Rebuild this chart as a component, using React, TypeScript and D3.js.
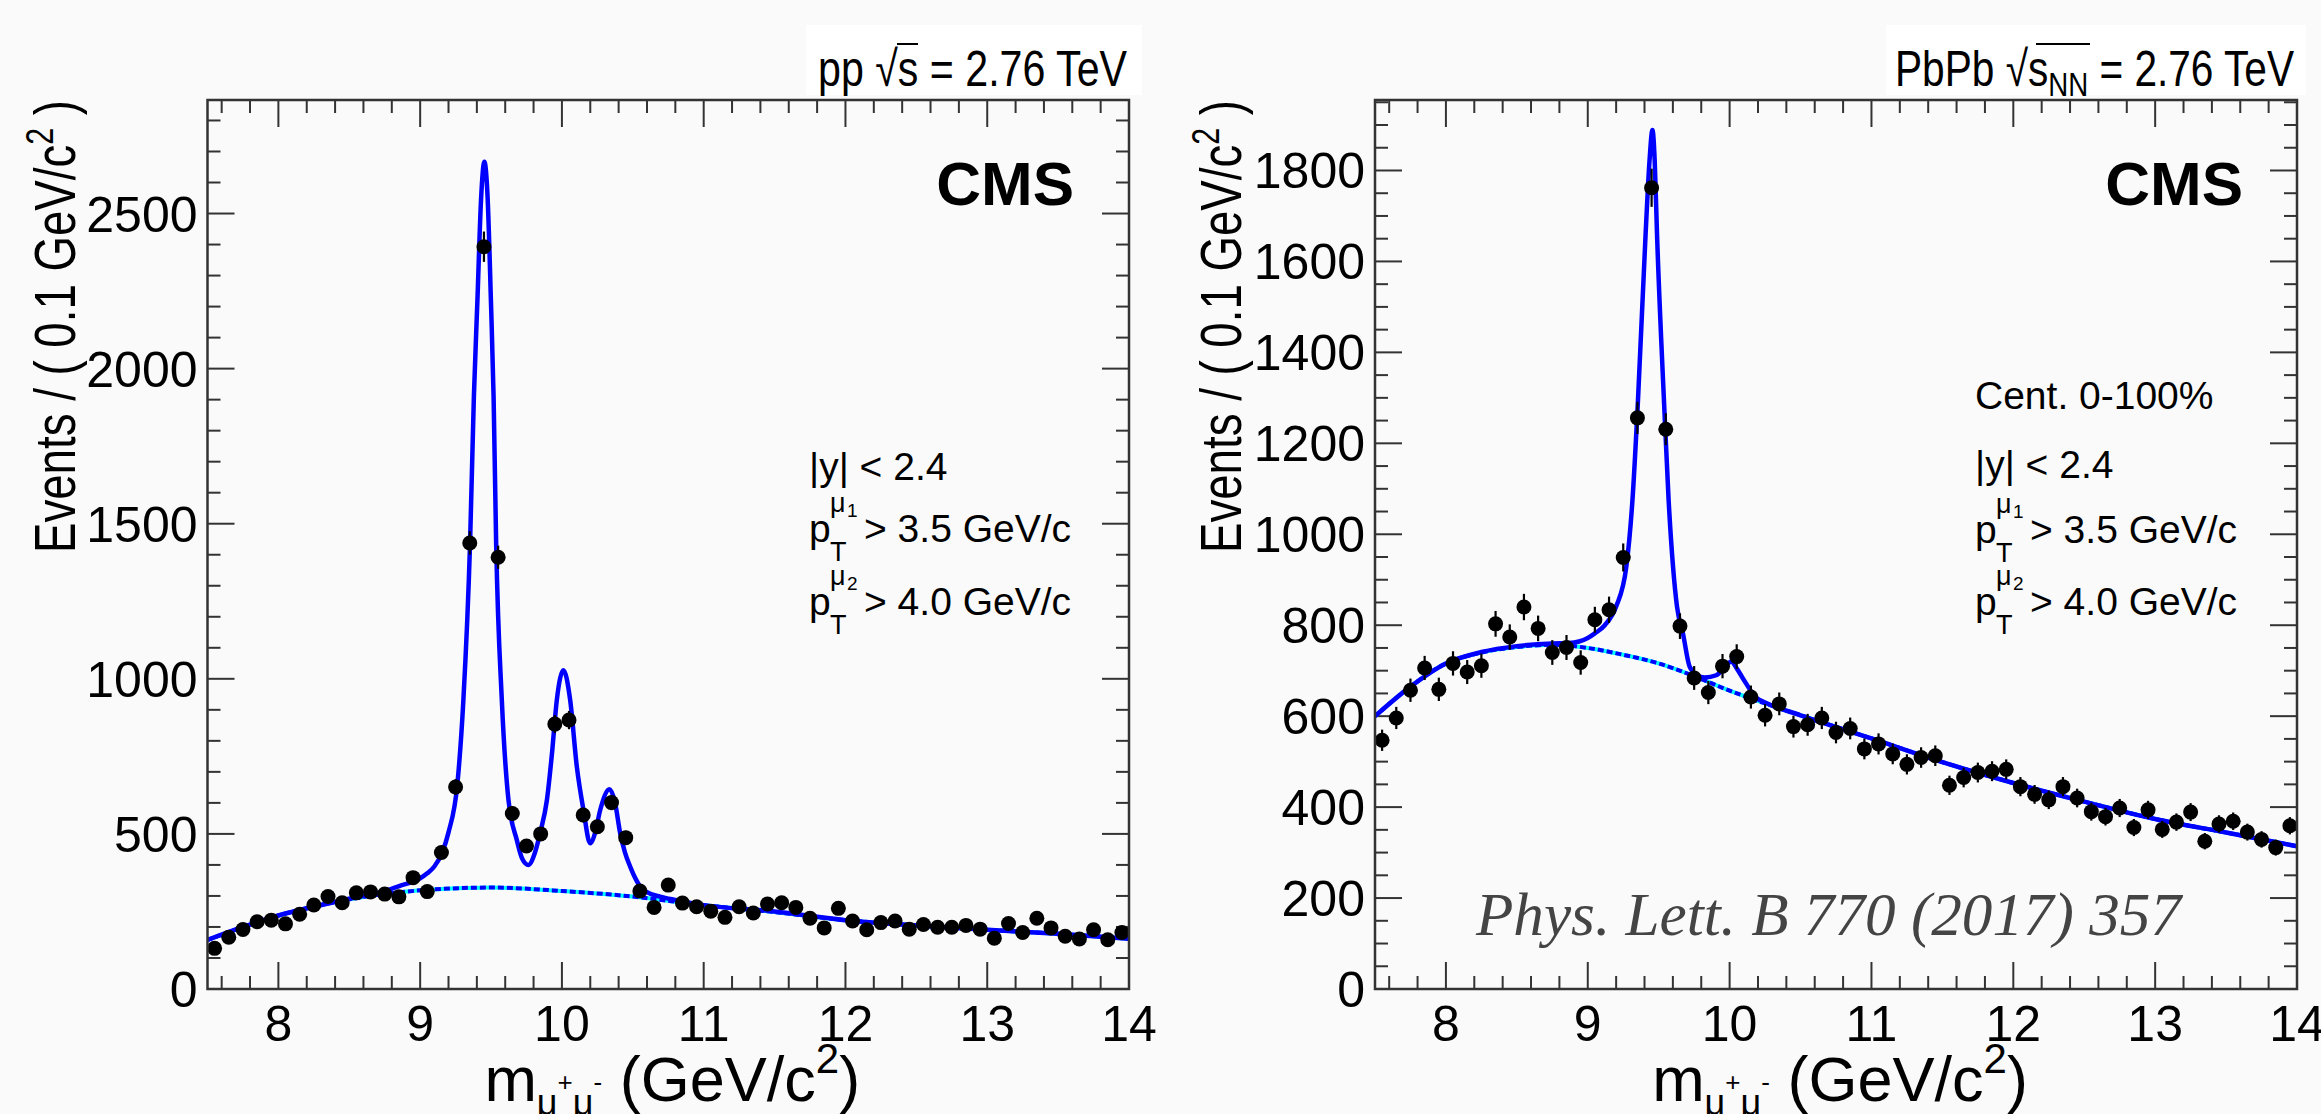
import React from 'react';
import * as d3 from 'd3';

const W = 2321;
const H = 1114;

// bin centres (GeV/c^2), 0.1 GeV bins from 7.5 to 14
const binCenters = [
  7.55, 7.65, 7.75, 7.85, 7.95, 8.05, 8.15, 8.25, 8.35, 8.45,
  8.55, 8.65, 8.75, 8.85, 8.95, 9.05, 9.15, 9.25, 9.35, 9.45,
  9.55, 9.65, 9.75, 9.85, 9.95, 10.05, 10.15, 10.25, 10.35, 10.45,
  10.55, 10.65, 10.75, 10.85, 10.95, 11.05, 11.15, 11.25, 11.35, 11.45,
  11.55, 11.65, 11.75, 11.85, 11.95, 12.05, 12.15, 12.25, 12.35, 12.45,
  12.55, 12.65, 12.75, 12.85, 12.95, 13.05, 13.15, 13.25, 13.35, 13.45,
  13.55, 13.65, 13.75, 13.85, 13.95,
];

// pp counts
const ppCounts = [
  131, 167, 192, 217, 222, 210, 241, 271, 298, 278,
  310, 313, 306, 297, 359, 314, 440, 651, 1438, 2393,
  1392, 566, 461, 500, 854, 867, 561, 523, 601, 488,
  316, 263, 335, 277, 265, 251, 231, 265, 245, 274,
  278, 263, 228, 197, 260, 219, 191, 214, 219, 193,
  208, 199, 199, 205, 193, 164, 211, 182, 228, 197,
  170, 161, 191, 159, 182,
];

// PbPb counts
const pbpbCounts = [
  547, 596, 657, 706, 659, 716, 697, 711, 803, 774,
  840, 793, 740, 751, 718, 812, 834, 949, 1256, 1762,
  1231, 798, 684, 652, 710, 731, 642, 602, 627, 577,
  581, 596, 564, 573, 528, 539, 517, 494, 509, 513,
  448, 465, 476, 479, 483, 445, 428, 416, 445, 420,
  390, 379, 398, 355, 394, 351, 367, 389, 325, 363,
  369, 345, 329, 311, 359,
];

// pp total fit curve
const ppFitMass = [
  7.5, 7.75, 8.0, 8.25, 8.5, 8.75, 8.86, 9.0, 9.05, 9.1, 9.153, 9.2, 9.263, 9.305, 9.352,
  9.379, 9.404, 9.43, 9.453, 9.476, 9.499, 9.518, 9.536, 9.576, 9.623, 9.682, 9.72,
  9.764, 9.81, 9.85, 9.894, 9.93, 9.964, 10.011, 10.058, 10.105, 10.152, 10.199,
  10.235, 10.27, 10.336, 10.375, 10.411, 10.445, 10.482, 10.52, 10.552, 10.6, 10.693,
  10.8, 10.976, 11.5, 12.0, 12.5, 13.0, 13.5, 14.0,
];
const ppFitValues = [
  158, 200, 237, 265, 291, 316, 333, 357, 373, 395, 437, 505, 663, 932, 1437,
  1910, 2221, 2550, 2667, 2550, 2221, 1910, 1437, 932, 609, 480, 420,
  400, 440, 510, 609, 760, 932, 1028, 932, 717, 577, 470,
  505, 577, 644, 600, 502, 440, 394, 355, 330, 312, 298,
  287, 272, 250, 222, 205, 191, 178, 162,
];
// pp background component
const ppBkgMass = [7.5, 8.0, 8.5, 9.0, 9.5, 10.0, 10.5, 11.0, 11.5, 12.0, 12.5, 13.0, 13.5, 14.0];
const ppBkgValues = [158, 237, 289, 318, 327, 316, 298, 270, 248, 222, 205, 191, 178, 162];

// PbPb total fit curve
const pbpbFitMass = [
  7.5, 7.75, 8.0, 8.25, 8.5, 8.75, 8.87, 9.0, 9.05, 9.12, 9.2, 9.272, 9.315, 9.354,
  9.408, 9.435, 9.456, 9.472, 9.488, 9.537, 9.57, 9.601, 9.629, 9.671, 9.718, 9.77,
  9.824, 9.906, 9.96, 10.012, 10.05, 10.094, 10.19, 10.25, 10.5, 11.0, 11.5, 12.0,
  12.5, 13.0, 13.5, 14.0,
];
const pbpbFitValues = [
  600, 665, 716, 741, 754, 760, 761, 772, 782, 800, 841, 929, 1075, 1295,
  1662, 1820, 1889, 1820, 1662, 1295, 1075, 929, 841, 782, 709, 690,
  685, 690, 705, 720, 705, 683, 640, 630, 602, 551, 499, 453,
  412, 374, 344, 314,
];
const pbpbBkgMass = [7.5, 7.75, 8.0, 8.25, 8.5, 8.75, 9.0, 9.25, 9.5, 9.75, 10.0, 10.25, 10.5, 11.0, 11.5, 12.0, 12.5, 13.0, 13.5, 14.0];
const pbpbBkgValues = [600, 665, 716, 740, 752, 757, 750, 735, 716, 688, 656, 628, 602, 551, 499, 453, 412, 374, 344, 314];

const xTickLabels = [8, 9, 10, 11, 12, 13, 14];
const ppYTickLabels = [0, 500, 1000, 1500, 2000, 2500];
const pbpbYTickLabels = [0, 200, 400, 600, 800, 1000, 1200, 1400, 1600, 1800];

const FONT = "'Liberation Sans', Arial, Helvetica, sans-serif";
const FRAME = '#333333';
const Y_TOP = 100;
const Y_BOT = 989;

type PanelProps = {
  id: string;
  x0: number;
  x1: number;
  yMax: number;
  yTicks: number[];
  yMinorStep: number;
  counts: number[];
  fitMass: number[];
  fitValues: number[];
  bkgMass: number[];
  bkgValues: number[];
};

function Panel(props: PanelProps) {
  const { id, x0, x1, yMax, yTicks, yMinorStep, counts, fitMass, fitValues, bkgMass, bkgValues } = props;
  const x = d3.scaleLinear().domain([7.5, 14]).range([x0, x1]);
  const y = d3.scaleLinear().domain([0, yMax]).range([Y_BOT, Y_TOP]);
  const line = d3
    .line<[number, number]>()
    .x((d) => x(d[0]))
    .y((d) => y(d[1]))
    .curve(d3.curveMonotoneX);
  const fitPts: [number, number][] = fitMass.map((m, i) => [m, fitValues[i]]);
  const bkgPts: [number, number][] = bkgMass.map((m, i) => [m, bkgValues[i]]);

  const xMinor = d3.range(7.6, 14.001, 0.2).filter((v) => Math.abs(v - Math.round(v)) > 1e-6);
  const yMinor = d3.range(0, yMax, yMinorStep).filter((v) => !yTicks.includes(v));
  const MAJ = 27;
  const MIN = 13;

  return (
    <g>
      <defs>
        <clipPath id={`clip-${id}`}>
          <rect x={x0} y={Y_TOP} width={x1 - x0} height={Y_BOT - Y_TOP} />
        </clipPath>
      </defs>
      <g stroke={FRAME} strokeWidth={2}>
        {xTickLabels.map((t) => (
          <g key={`xt${t}`}>
            <line x1={x(t)} x2={x(t)} y1={Y_BOT} y2={Y_BOT - MAJ} />
            <line x1={x(t)} x2={x(t)} y1={Y_TOP} y2={Y_TOP + MAJ} />
          </g>
        ))}
        {xMinor.map((t) => (
          <g key={`xm${t.toFixed(1)}`}>
            <line x1={x(t)} x2={x(t)} y1={Y_BOT} y2={Y_BOT - MIN} />
            <line x1={x(t)} x2={x(t)} y1={Y_TOP} y2={Y_TOP + MIN} />
          </g>
        ))}
        {yTicks.map((t) => (
          <g key={`yt${t}`}>
            <line x1={x0} x2={x0 + MAJ} y1={y(t)} y2={y(t)} />
            <line x1={x1} x2={x1 - MAJ} y1={y(t)} y2={y(t)} />
          </g>
        ))}
        {yMinor.map((t) => (
          <g key={`ym${t}`}>
            <line x1={x0} x2={x0 + MIN} y1={y(t)} y2={y(t)} />
            <line x1={x1} x2={x1 - MIN} y1={y(t)} y2={y(t)} />
          </g>
        ))}
      </g>
      <g clipPath={`url(#clip-${id})`}>
        <path d={line(bkgPts) || ''} fill="none" stroke="#00ffff" strokeWidth={4} />
        <path d={line(bkgPts) || ''} fill="none" stroke="#0000ff" strokeWidth={4} strokeDasharray="6,3" />
        <path d={line(fitPts) || ''} fill="none" stroke="#0000ff" strokeWidth={4.5} strokeLinejoin="round" />
      </g>
      <g>
        {counts.map((c, i) => {
          const e = Math.sqrt(c);
          return (
            <g key={`pt${i}`}>
              <line x1={x(binCenters[i])} x2={x(binCenters[i])} y1={y(c - e)} y2={y(c + e)} stroke="#000" strokeWidth={2.2} />
              <circle cx={x(binCenters[i])} cy={y(c)} r={7.5} fill="#000" />
            </g>
          );
        })}
      </g>
      <rect x={x0} y={Y_TOP} width={x1 - x0} height={Y_BOT - Y_TOP} fill="none" stroke={FRAME} strokeWidth={2.5} />
      <g fontFamily={FONT} fontSize={50} fill="#000">
        {xTickLabels.map((t) => (
          <text key={`xl${t}`} x={x(t)} y={1041} textAnchor="middle">
            {t}
          </text>
        ))}
        {yTicks.map((t) => (
          <text key={`yl${t}`} x={x0 - 10} y={y(t)} dy="0.36em" textAnchor="end">
            {t}
          </text>
        ))}
      </g>
    </g>
  );
}

function PtLine({ x, y, idx, val }: { x: number; y: number; idx: string; val: string }) {
  return (
    <text x={x} y={y} fontFamily={FONT} fontSize={39} fill="#000">
      <tspan>p</tspan>
      <tspan x={x + 21} y={y + 19} fontSize={27}>T</tspan>
      <tspan x={x + 21} y={y - 30} fontSize={27}>μ</tspan>
      <tspan x={x + 38} y={y - 25} fontSize={19}>{idx}</tspan>
      <tspan x={x + 55} y={y}>{`> ${val} GeV/c`}</tspan>
    </text>
  );
}

export default function App() {
  const L = { x0: 207.5, x1: 1129 };
  const R = { x0: 1375, x1: 2297 };
  return (
    <svg
      width={W}
      height={H}
      viewBox={`0 0 ${W} ${H}`}
      style={{ position: 'absolute', left: 0, top: 0, background: '#fafafa' }}
    >
      <rect x={0} y={0} width={W} height={H} fill="#fafafa" />
      <rect x={806} y={25} width={336} height={70} fill="#ffffff" />
      <rect x={1886} y={25} width={420} height={70} fill="#ffffff" />

      <Panel
        id="pp"
        x0={L.x0}
        x1={L.x1}
        yMax={2866}
        yTicks={ppYTickLabels}
        yMinorStep={100}
        counts={ppCounts}
        fitMass={ppFitMass}
        fitValues={ppFitValues}
        bkgMass={ppBkgMass}
        bkgValues={ppBkgValues}
      />
      <Panel
        id="pbpb"
        x0={R.x0}
        x1={R.x1}
        yMax={1955}
        yTicks={pbpbYTickLabels}
        yMinorStep={50}
        counts={pbpbCounts}
        fitMass={pbpbFitMass}
        fitValues={pbpbFitValues}
        bkgMass={pbpbBkgMass}
        bkgValues={pbpbBkgValues}
      />

      <text x={818} y={86} fontFamily={FONT} fontSize={50} textLength={309} lengthAdjust="spacingAndGlyphs">
        pp √s = 2.76 TeV
      </text>
      <line x1={897} x2={918} y1={44} y2={44} stroke="#000" strokeWidth={2} />
      <text x={1895} y={86} fontFamily={FONT} fontSize={50} textLength={399} lengthAdjust="spacingAndGlyphs">
        <tspan>PbPb √s</tspan>
        <tspan fontSize={34} dy={10}>NN</tspan>
        <tspan dy={-10}> = 2.76 TeV</tspan>
      </text>
      <line x1={2036} x2={2090} y1={44} y2={44} stroke="#000" strokeWidth={2} />

      <text x={1074} y={205} fontFamily={FONT} fontWeight="bold" fontSize={62} textAnchor="end">CMS</text>
      <text x={2243} y={205} fontFamily={FONT} fontWeight="bold" fontSize={62} textAnchor="end">CMS</text>

      <text x={809} y={480} fontFamily={FONT} fontSize={39}>|y| &lt; 2.4</text>
      <PtLine x={809} y={542} idx="1" val="3.5" />
      <PtLine x={809} y={615} idx="2" val="4.0" />

      <text x={1975} y={409} fontFamily={FONT} fontSize={39}>Cent. 0-100%</text>
      <text x={1975} y={478} fontFamily={FONT} fontSize={39}>|y| &lt; 2.4</text>
      <PtLine x={1975} y={543} idx="1" val="3.5" />
      <PtLine x={1975} y={615} idx="2" val="4.0" />

      {[75, 1241].map((bx) => (
        <text
          key={`yt${bx}`}
          transform={`translate(${bx},100) rotate(-90)`}
          fontFamily={FONT}
          fontSize={57}
          textAnchor="end"
          textLength={453}
          lengthAdjust="spacingAndGlyphs"
        >
          <tspan>Events / ( 0.1 GeV/c</tspan>
          <tspan fontSize={38} dy={-22}>2</tspan>
          <tspan dy={22}> )</tspan>
        </text>
      ))}

      {[[L.x0, L.x1], [R.x0, R.x1]].map(([a, b]) => (
        <text key={`xt${a}`} x={(a + b) / 2 + 4} y={1101} fontFamily={FONT} fontSize={63} textAnchor="middle">
          <tspan>m</tspan>
          <tspan fontSize={36} dy={14}>μ</tspan>
          <tspan fontSize={26} dy={-24}>+</tspan>
          <tspan fontSize={36} dy={24}>μ</tspan>
          <tspan fontSize={26} dy={-24}>-</tspan>
          <tspan dy={10}> (GeV/c</tspan>
          <tspan fontSize={42} dy={-28}>2</tspan>
          <tspan dy={28}>)</tspan>
        </text>
      ))}

      <text
        x={1476}
        y={935}
        fontFamily="'Liberation Serif', 'Times New Roman', serif"
        fontStyle="italic"
        fontSize={62}
        fill="#444444"
        textLength={705}
        lengthAdjust="spacingAndGlyphs"
      >
        Phys. Lett. B 770 (2017) 357
      </text>
    </svg>
  );
}
